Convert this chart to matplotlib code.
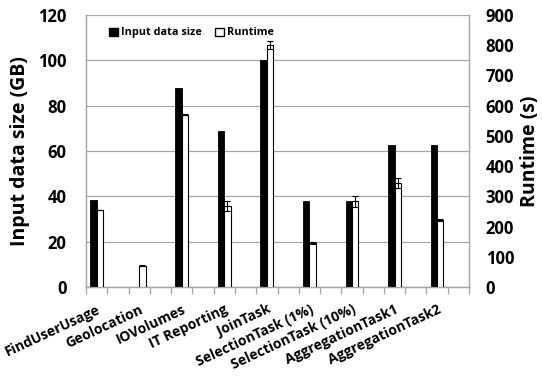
import numpy as np
import matplotlib
matplotlib.use("Agg")
import matplotlib.pyplot as plt
from matplotlib.patches import Patch

plt.rcParams['font.family'] = ['Open Sans', 'DejaVu Sans']
plt.rcParams['font.weight'] = 'bold'

tasks = ["FindUserUsage", "Geolocation", "IOVolumes", "IT Reporting", "JoinTask",
         "SelectionTask (1%)", "SelectionTask (10%)", "AggregationTask1", "AggregationTask2"]
input_gb = [38.5, 0.2, 88, 69, 100, 38, 38, 62.5, 62.5]
runtime_s = [256, 71, 570, 268, 802, 145, 283, 343, 222]
runtime_err = [0, 2, 2, 18, 13, 3, 19, 17, 3]

grid_col = "#a6a6a6"
x = np.arange(len(tasks)) * 2 + 0.5
w = 0.3

fig = plt.figure(figsize=(5.42, 3.83), dpi=100)
ax = fig.add_axes([86 / 542, 1 - 287 / 383, (469 - 86) / 542, (287 - 15) / 383])
ax2 = ax.twinx()

ax.bar(x - w / 2, input_gb, w, color="black", edgecolor="black", linewidth=0.6, zorder=3)
ax2.bar(x + w / 2, runtime_s, w, color="white", edgecolor="black", linewidth=0.8, zorder=3,
        yerr=runtime_err, error_kw=dict(ecolor="black", elinewidth=0.8, capsize=2, capthick=0.8))

ax.set_xlim(0, 18)
ax.set_ylim(0, 120)
ax.set_yticks(np.arange(0, 121, 20))
ax2.set_ylim(0, 900)
ax2.set_yticks(np.arange(0, 901, 100))
ax.yaxis.grid(True, color=grid_col, linewidth=0.9)
ax.set_axisbelow(True)

ax.set_xticks(x)
ax.set_xticklabels(tasks, rotation=25, ha="right", rotation_mode="anchor",
                   fontsize=10, fontweight="bold")
ax.set_xticks(np.arange(0, 19), minor=True)
ax.tick_params(axis="x", which="major", length=0, pad=11)
ax.tick_params(axis="x", which="minor", length=5, color=grid_col, width=0.9)
ax.tick_params(axis="y", length=0, labelsize=12, pad=14)
ax2.tick_params(axis="y", length=0, labelsize=12, pad=12)
for lab in ax.get_yticklabels() + ax2.get_yticklabels():
    lab.set_fontweight("bold")

for a in (ax, ax2):
    a.spines["top"].set_visible(False)
    for s in ("left", "right", "bottom"):
        a.spines[s].set_color(grid_col)
        a.spines[s].set_linewidth(0.9)

ax.set_ylabel("Input data size (GB)", fontsize=14, fontweight="bold", labelpad=6)
ax2.set_ylabel("Runtime (s)", fontsize=14, fontweight="bold", labelpad=4)

handles = [Patch(facecolor="black", edgecolor="black"),
           Patch(facecolor="white", edgecolor="black")]
ax2.legend(handles, ["Input data size", "Runtime"], loc="upper left", bbox_to_anchor=(0.035, 0.99),
           ncol=2, frameon=False, prop=dict(size=7.8, weight="bold"), handlelength=0.8,
           handleheight=0.8, handletextpad=0.3, columnspacing=1.2)

fig.savefig("out.png", dpi=100)
